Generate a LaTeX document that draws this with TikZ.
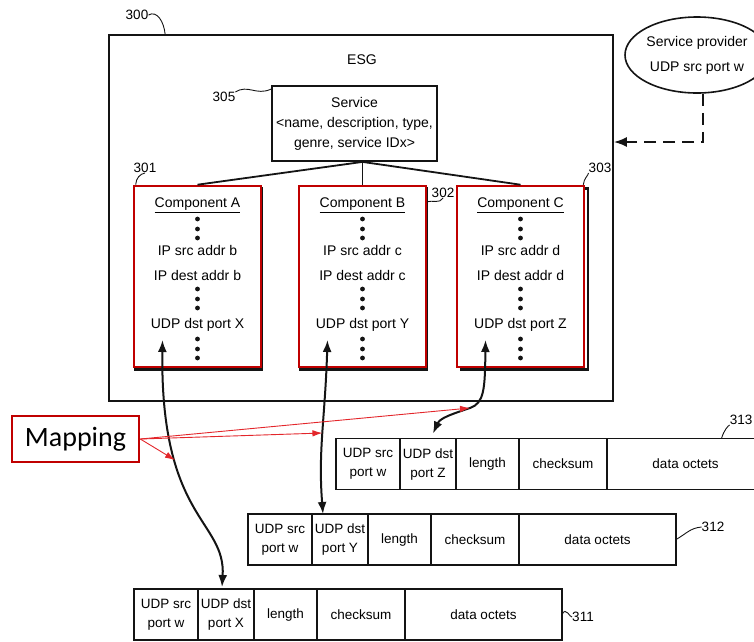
\documentclass[tikz,border=0pt]{standalone}
\usepackage{fontspec}
\setmainfont{Liberation Sans}
\newfontfamily\mapfont{Carlito}
\usepackage{tikz}
\usetikzlibrary{arrows.meta,positioning,calc,shapes.geometric}
\definecolor{Ink}{HTML}{141414}
\definecolor{MapRed}{HTML}{C00000}
\definecolor{LinkRed}{HTML}{E3262B}
\tikzset{
  txt/.style={font=\fontsize{14}{19}\selectfont,inner sep=0pt,align=center},
  refnum/.style={font=\fontsize{13.5}{15}\selectfont,inner sep=0pt},
  lead/.style={draw=Ink,line width=0.9pt},
  link/.style={draw=Ink,line width=1.8pt},
  esgbox/.style={draw=Ink,line width=1.8pt,minimum width=504pt,minimum height=366pt,inner sep=0pt},
  servbox/.style={txt,font=\fontsize{14}{20}\selectfont,draw=Ink,line width=1.8pt,fill=white,minimum width=165pt,minimum height=75pt},
  provell/.style={ellipse,txt,font=\fontsize{14}{25}\selectfont,draw=Ink,line width=1.6pt,minimum width=144pt,minimum height=76pt},
  compbox/.style={draw=MapRed,line width=2.6pt,fill=white,minimum width=127pt,minimum height=181pt,inner sep=0pt},
  compshade/.style={draw=Ink,line width=2.2pt,minimum width=127pt,minimum height=181pt,inner sep=0pt},
  dotmark/.style={circle,fill=Ink,inner sep=0pt,minimum size=4.8pt},
  cell/.style={txt,font=\fontsize{13.5}{19}\selectfont,draw=Ink,line width=1.6pt,minimum height=51pt,outer sep=0pt},
  srccell/.style={cell,minimum width=64pt},
  dstcell/.style={cell,minimum width=56pt},
  lencell/.style={cell,minimum width=63pt},
  sumcell/.style={cell,minimum width=88pt},
  datcell/.style={cell,minimum width=157pt},
  mapbox/.style={draw=MapRed,line width=2.6pt,minimum width=127pt,minimum height=46pt,inner sep=0pt,font=\mapfont\fontsize{28}{30}\selectfont},
  portarrow/.style={{Latex[length=12pt,width=9pt]}-{Latex[length=12pt,width=9pt]},line width=2pt,draw=Ink},
  maparrow/.style={-{Latex[length=10pt,width=6.5pt]},line width=0.9pt,draw=LinkRed},
  feedarrow/.style={-{Latex[length=13pt,width=10pt]},line width=1.8pt,draw=Ink,dash pattern=on 12pt off 7pt}
}

\begin{document}
\begin{tikzpicture}[x=1pt,y=-1pt]
  \path[use as bounding box] (0,0) rectangle (754,641);
  \clip (0,0) rectangle (754,641);

  \node[esgbox] (esg) at (361,218) {};
  \node[txt] (esgtitle) at (362,60) {ESG};
  \node[servbox] (service) at (354.5,123.5) {Service\\<name, description, type,\\genre, service IDx>};
  \node[provell] (provider) at (697,55) {Service provider\\UDP src port w};

  \foreach \c/\x/\sx/\ad/\pt in {A/197.5/1/b/X, B/362.5/1/c/Y, C/520.5/4/d/Z} {
    \node[compshade] (shade\c) at (\x+\sx,279) {};
    \node[compbox] (comp\c) at (\x,276.5) {};
    \node[txt] (title\c) at (\x,205) {\underline{Component \c}};
    \node[txt] (src\c) at (\x,250) {IP src addr \ad};
    \node[txt] (dest\c) at (\x,275) {IP dest addr \ad};
    \node[txt] (port\c) at (\x,325) {UDP dst port \pt};
    \foreach \d in {219,229,238,289,299,308,339,349,358}
      \node[dotmark] (dot\c\d) at (\x,\d) {};
    \coordinate (up\c) at (\x-35,340);
  }

  \draw[link] (service.south -| compB.north) -- (compA.north);
  \draw[link] (service.south -| compB.north) -- (compB.north);
  \draw[link] (service.south -| compB.north) -- (compC.north);
  \draw[feedarrow] ([xshift=6pt]provider.south) |- ([yshift=76pt]esg.east);

  % packets
  \node[srccell,anchor=west] (src313) at (336,464) {UDP src\\port w};
  \node[dstcell,right=0pt of src313] (dst313) {UDP dst\\port Z};
  \node[lencell,right=0pt of dst313] (len313) {length};
  \node[sumcell,right=0pt of len313] (sum313) {checksum};
  \node[datcell,right=0pt of sum313] (dat313) {data octets};

  \node[srccell,anchor=west] (src312) at (248,539.5) {UDP src\\port w};
  \node[dstcell,right=0pt of src312] (dst312) {UDP dst\\port Y};
  \node[lencell,right=0pt of dst312] (len312) {length};
  \node[sumcell,right=0pt of len312] (sum312) {checksum};
  \node[datcell,right=0pt of sum312] (dat312) {data octets};

  \node[srccell,anchor=west] (src311) at (134,614.5) {UDP src\\port w};
  \node[dstcell,right=0pt of src311] (dst311) {UDP dst\\port X};
  \node[lencell,right=0pt of dst311] (len311) {length};
  \node[sumcell,right=0pt of len311] (sum311) {checksum};
  \node[datcell,right=0pt of sum311] (dat311) {data octets};

  % mappings
  \draw[portarrow] (upA) .. controls (160,520) and (226,520) .. node[coordinate,pos=0.3] (hitA) {} ([xshift=-4pt,yshift=2pt]dst311.north);
  \draw[portarrow] (upB) .. controls (325,420) and (318,450) .. node[coordinate,pos=0.5] (hitB) {} ([xshift=11pt]dst312.north west);
  \draw[portarrow] (upC) .. controls (485,390) and (484,403) .. (470,408) coordinate (hitC)
    .. controls (452,414) and (440,418) .. ([xshift=5pt,yshift=5pt]dst313.north);

  \node[mapbox] (mapping) at (75.5,439) {Mapping};
  \draw[maparrow] (mapping.east) -- (hitA);
  \draw[maparrow] (mapping.east) -- (hitB);
  \draw[maparrow] (mapping.east) -- (hitC);

  % reference numerals
  \node[refnum] (n300) at (137,15) {300};
  \node[refnum] (n305) at (224,97) {305};
  \node[refnum] (n301) at (145,168) {301};
  \node[refnum] (n302) at (443,193) {302};
  \node[refnum] (n303) at (600,168) {303};
  \node[refnum] (n311) at (583,617) {311};
  \node[refnum] (n312) at (713,527) {312};
  \node[refnum] (n313) at (741,420) {313};
  \draw[lead] (n300.east) .. controls (157,10) and (164,22) .. ([xshift=57pt]esg.north west);
  \draw[lead] (n305.north east) .. controls (248,84) and (256,96) .. ([yshift=-4pt]service.north west);
  \draw[lead] (n301.south) .. controls (140,174) and (136,178) .. ([xshift=3pt]compA.north west);
  \draw[lead] (n302.south) .. controls (440,204) and (432,200) .. ([yshift=-17pt]compB.north east);
  \draw[lead] (n303.south west) .. controls (588,176) and (584,178) .. ([xshift=-2pt]compC.north east);
  \draw[lead] (dat311.east) .. controls (566,606) and (570,618) .. (n311.west);
  \draw[lead] (dat312.east) .. controls (686,534) and (690,528) .. (n312.west);
  \draw[lead] ([xshift=36pt]dat313.north) .. controls (724,430) and (728,426) .. (n313.south west);
\end{tikzpicture}
\end{document}
